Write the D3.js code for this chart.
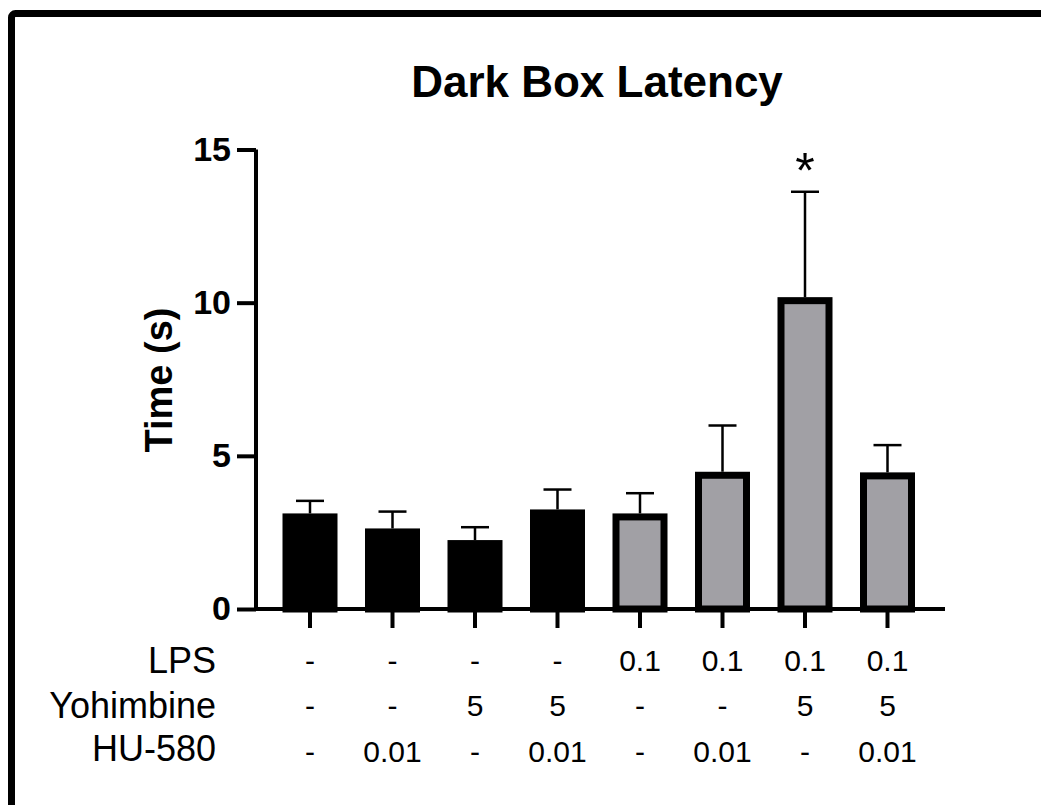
<!DOCTYPE html>
<html>
<head>
<meta charset="utf-8">
<script src="https://cdn.jsdelivr.net/npm/d3@7"></script>
<style>
  html, body { margin: 0; padding: 0; background: #fff; }
  svg { display: block; font-family: "Liberation Sans", Arial, sans-serif; }
</style>
</head>
<body>
<svg id="chart" width="1041" height="805"></svg>
<script>
// ---- data ----
const groups = ["g1", "g2", "g3", "g4", "g5", "g6", "g7", "g8"];
const means = [3.12, 2.63, 2.25, 3.25, 3.12, 4.48, 10.18, 4.46];
const sems = [0.41, 0.55, 0.42, 0.65, 0.66, 1.51, 3.44, 0.89];
const lpsRow = ["-", "-", "-", "-", "0.1", "0.1", "0.1", "0.1"];
const yohimbineRow = ["-", "-", "5", "5", "-", "-", "5", "5"];
const huRow = ["-", "0.01", "-", "0.01", "-", "0.01", "-", "0.01"];
const rowLabels = ["LPS", "Yohimbine", "HU-580"];
const significance = ["", "", "", "", "", "", "*", ""];
const yTicks = [0, 5, 10, 15];
const title = "Dark Box Latency";
const yLabel = "Time (s)";

// ---- layout ----
const svg = d3.select("#chart");
const axisX = 256, axisEndX = 945;
const black = "#000", gray = "#a1a0a5";
const barStroke = 7;

svg.append("rect").attr("width", 1041).attr("height", 805).attr("fill", "#fff");
// outer frame (cropped on right and bottom)
svg.append("rect")
  .attr("x", 11.5).attr("y", 13.5)
  .attr("width", 1200).attr("height", 1000)
  .attr("rx", 4)
  .attr("fill", "none").attr("stroke", black).attr("stroke-width", 7);

const y = d3.scaleLinear().domain([0, 15]).range([609, 149.5]);
const x = d3.scaleBand().domain(groups).range([268.75, 928.75])
  .paddingInner(1 / 3).paddingOuter(1 / 6);

// title
svg.append("text")
  .attr("x", 597).attr("y", 97)
  .attr("text-anchor", "middle")
  .attr("font-weight", "bold").attr("font-size", 44)
  .text(title);

// y label
svg.append("text")
  .attr("transform", `translate(172,380) rotate(-90)`)
  .attr("text-anchor", "middle")
  .attr("font-weight", "bold").attr("font-size", 38)
  .text(yLabel);

// bars
const barsG = svg.append("g");
barsG.selectAll("rect.bar").data(groups).join("rect")
  .attr("class", "bar")
  .attr("x", d => x(d) + barStroke / 2)
  .attr("y", (d, i) => y(means[i]) + barStroke / 2)
  .attr("width", x.bandwidth() - barStroke)
  .attr("height", (d, i) => y(0) - y(means[i]) - barStroke / 2)
  .attr("fill", (d, i) => i < 4 ? black : gray)
  .attr("stroke", black).attr("stroke-width", barStroke);

// error bars (upper only)
const errG = svg.append("g").attr("stroke", black).attr("stroke-width", 2.5);
groups.forEach((g, i) => {
  const cx = x(g) + x.bandwidth() / 2;
  errG.append("line")
    .attr("x1", cx).attr("x2", cx)
    .attr("y1", y(means[i])).attr("y2", y(means[i] + sems[i]));
  errG.append("line")
    .attr("x1", cx - 14).attr("x2", cx + 14)
    .attr("y1", y(means[i] + sems[i])).attr("y2", y(means[i] + sems[i]));
});

// significance markers
svg.append("g").selectAll("text").data(groups).join("text")
  .attr("x", d => x(d) + x.bandwidth() / 2)
  .attr("y", (d, i) => y(means[i] + sems[i]) - 4)
  .attr("text-anchor", "middle")
  .attr("font-size", 50)
  .text((d, i) => significance[i]);

// y axis
const yAxis = d3.axisLeft(y).tickValues(yTicks).tickSize(19).tickSizeOuter(0).tickPadding(6);
const yG = svg.append("g").attr("transform", `translate(${axisX},0)`).call(yAxis);
yG.select(".domain").remove();
yG.selectAll(".tick line").attr("stroke", black).attr("stroke-width", 4);
yG.selectAll(".tick text")
  .attr("font-family", "Liberation Sans, Arial, sans-serif")
  .attr("font-weight", "bold").attr("font-size", 34).attr("fill", black);
svg.append("line")
  .attr("x1", axisX).attr("x2", axisX)
  .attr("y1", y(15)).attr("y2", y(0) + 2)
  .attr("stroke", black).attr("stroke-width", 4);

// x axis
const xAxis = d3.axisBottom(x).tickSize(19).tickSizeOuter(0).tickFormat("");
const xG = svg.append("g").attr("transform", `translate(0,${y(0)})`).call(xAxis);
xG.select(".domain").remove();
xG.selectAll(".tick line").attr("stroke", black).attr("stroke-width", 4);
svg.append("line")
  .attr("x1", axisX - 2).attr("x2", axisEndX)
  .attr("y1", y(0)).attr("y2", y(0))
  .attr("stroke", black).attr("stroke-width", 4);

// treatment table
const rows = [lpsRow, yohimbineRow, huRow];
const labelBaselines = [673, 718, 761];
const valueBaselines = [671, 716, 762];
rows.forEach((row, r) => {
  svg.append("text")
    .attr("x", 216).attr("y", labelBaselines[r])
    .attr("text-anchor", "end").attr("font-size", 36)
    .text(rowLabels[r]);
  svg.append("g").selectAll("text").data(groups).join("text")
    .attr("x", d => x(d) + x.bandwidth() / 2)
    .attr("y", valueBaselines[r])
    .attr("text-anchor", "middle").attr("font-size", 30)
    .text((d, i) => row[i]);
});
</script>
</body>
</html>
